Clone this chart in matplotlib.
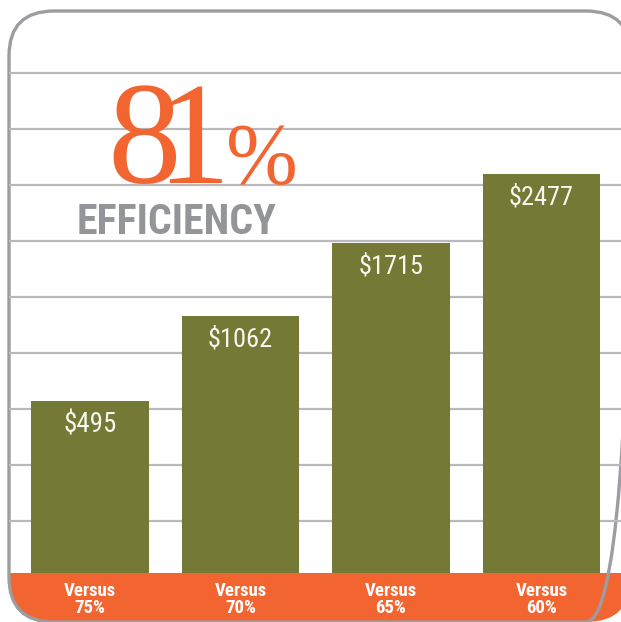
import numpy as np
import matplotlib
matplotlib.use('Agg')
import matplotlib.pyplot as plt
from matplotlib import font_manager
from matplotlib.patches import FancyBboxPatch, Rectangle
from matplotlib.transforms import blended_transform_factory

# data
categories = ['Versus\n75%', 'Versus\n70%', 'Versus\n65%', 'Versus\n60%']
savings = [495, 1062, 1715, 2477]
headline_number = '81'
headline_sign = '%'
subtitle = 'EFFICIENCY'

# colours
olive = '#747a35'
orange = '#f26531'
grid_gray = '#b9b9bb'
frame_gray = '#9c9ca1'
text_gray = '#939598'


def narrow_family():
    # the artwork uses a condensed grotesque; take one if it is installed
    names = {f.name for f in font_manager.fontManager.ttflist}
    for name in ['Liberation Sans Narrow', 'Roboto Condensed', 'Open Sans Condensed',
                 'Arial Narrow']:
        if name in names:
            return name
    return 'Liberation Sans'


narrow = narrow_family()
serif = 'Liberation Serif'

fig = plt.figure(figsize=(6.21, 6.22), dpi=100)
renderer = fig.canvas.get_renderer()


def fit_width(t, width_px, max_size):
    # shrink a text until it is no wider than the original lettering
    t.set_fontsize(max_size)
    w = t.get_window_extent(renderer).width
    if w > width_px:
        t.set_fontsize(max_size * width_px / w)
    return t


# background layer in pixel units: frame, grid lines, bottom band
bg = fig.add_axes([0, 0, 1, 1])
bg.set_xlim(0, 621)
bg.set_ylim(622, 0)
bg.axis('off')

frame = FancyBboxPatch((9, 11), 622, 611, boxstyle='round,pad=0,rounding_size=45',
                       facecolor='white', edgecolor='none')
bg.add_patch(frame)

for gy in 73 + 56 * np.arange(9):
    line, = bg.plot([0, 621], [gy, gy], color=grid_gray, lw=1.6, solid_capstyle='butt')
    line.set_clip_path(frame)

band = Rectangle((0, 573), 640, 60, facecolor=orange, edgecolor='none')
bg.add_patch(band)
band.set_clip_path(frame)

border = FancyBboxPatch((9, 11), 622, 611, boxstyle='round,pad=0,rounding_size=45',
                        facecolor='none', edgecolor=frame_gray, lw=2.4)
bg.add_patch(border)

# headline "81%": tight digits (negative thin space), smaller percent sign
digits = r'$\mathregular{' + r'\!'.join(headline_number) + '}$'
bg.text(224, 183, digits, fontsize=106, family=serif, color=orange,
        ha='right', va='baseline')
bg.text(225, 183, r'$\mathregular{\%}$', fontsize=62, family=serif, color=orange,
        ha='left', va='baseline')
sub = bg.text(177, 234, subtitle, family=narrow, fontweight='bold',
              color=text_gray, ha='center', va='baseline')
fit_width(sub, 200, 32)

# bars (values drawn on a square-root scale, like the original artwork)
ax = fig.add_axes([14.75 / 621, (622 - 573) / 622, 602 / 621, 562 / 622])
ax.patch.set_alpha(0)
ax.set_yscale('function', functions=(lambda y: np.sqrt(np.clip(y, 0, None)), np.square))
x = np.arange(len(savings))
ax.bar(x, savings, width=0.784, color=olive)
ax.set_xlim(-0.5, len(savings) - 0.5)
ax.set_ylim(2, 4830)
ax.axis('off')

for i, v in enumerate(savings):
    t = ax.annotate(f'${v}', (i, v), xytext=(0, -17), textcoords='offset points',
                    ha='center', va='center', family=narrow, color='#f7f7f0')
    fit_width(t, 65 if v >= 1000 else 53, 21)

trans = blended_transform_factory(ax.transData, ax.transAxes)
for i, lab in enumerate(categories):
    t = ax.text(i, -0.047, lab, transform=trans, ha='center', va='center',
                family=narrow, fontweight='bold', color='white', linespacing=0.95,
                clip_on=False)
    fit_width(t, 52, 17)

fig.savefig('out.png', dpi=100)
